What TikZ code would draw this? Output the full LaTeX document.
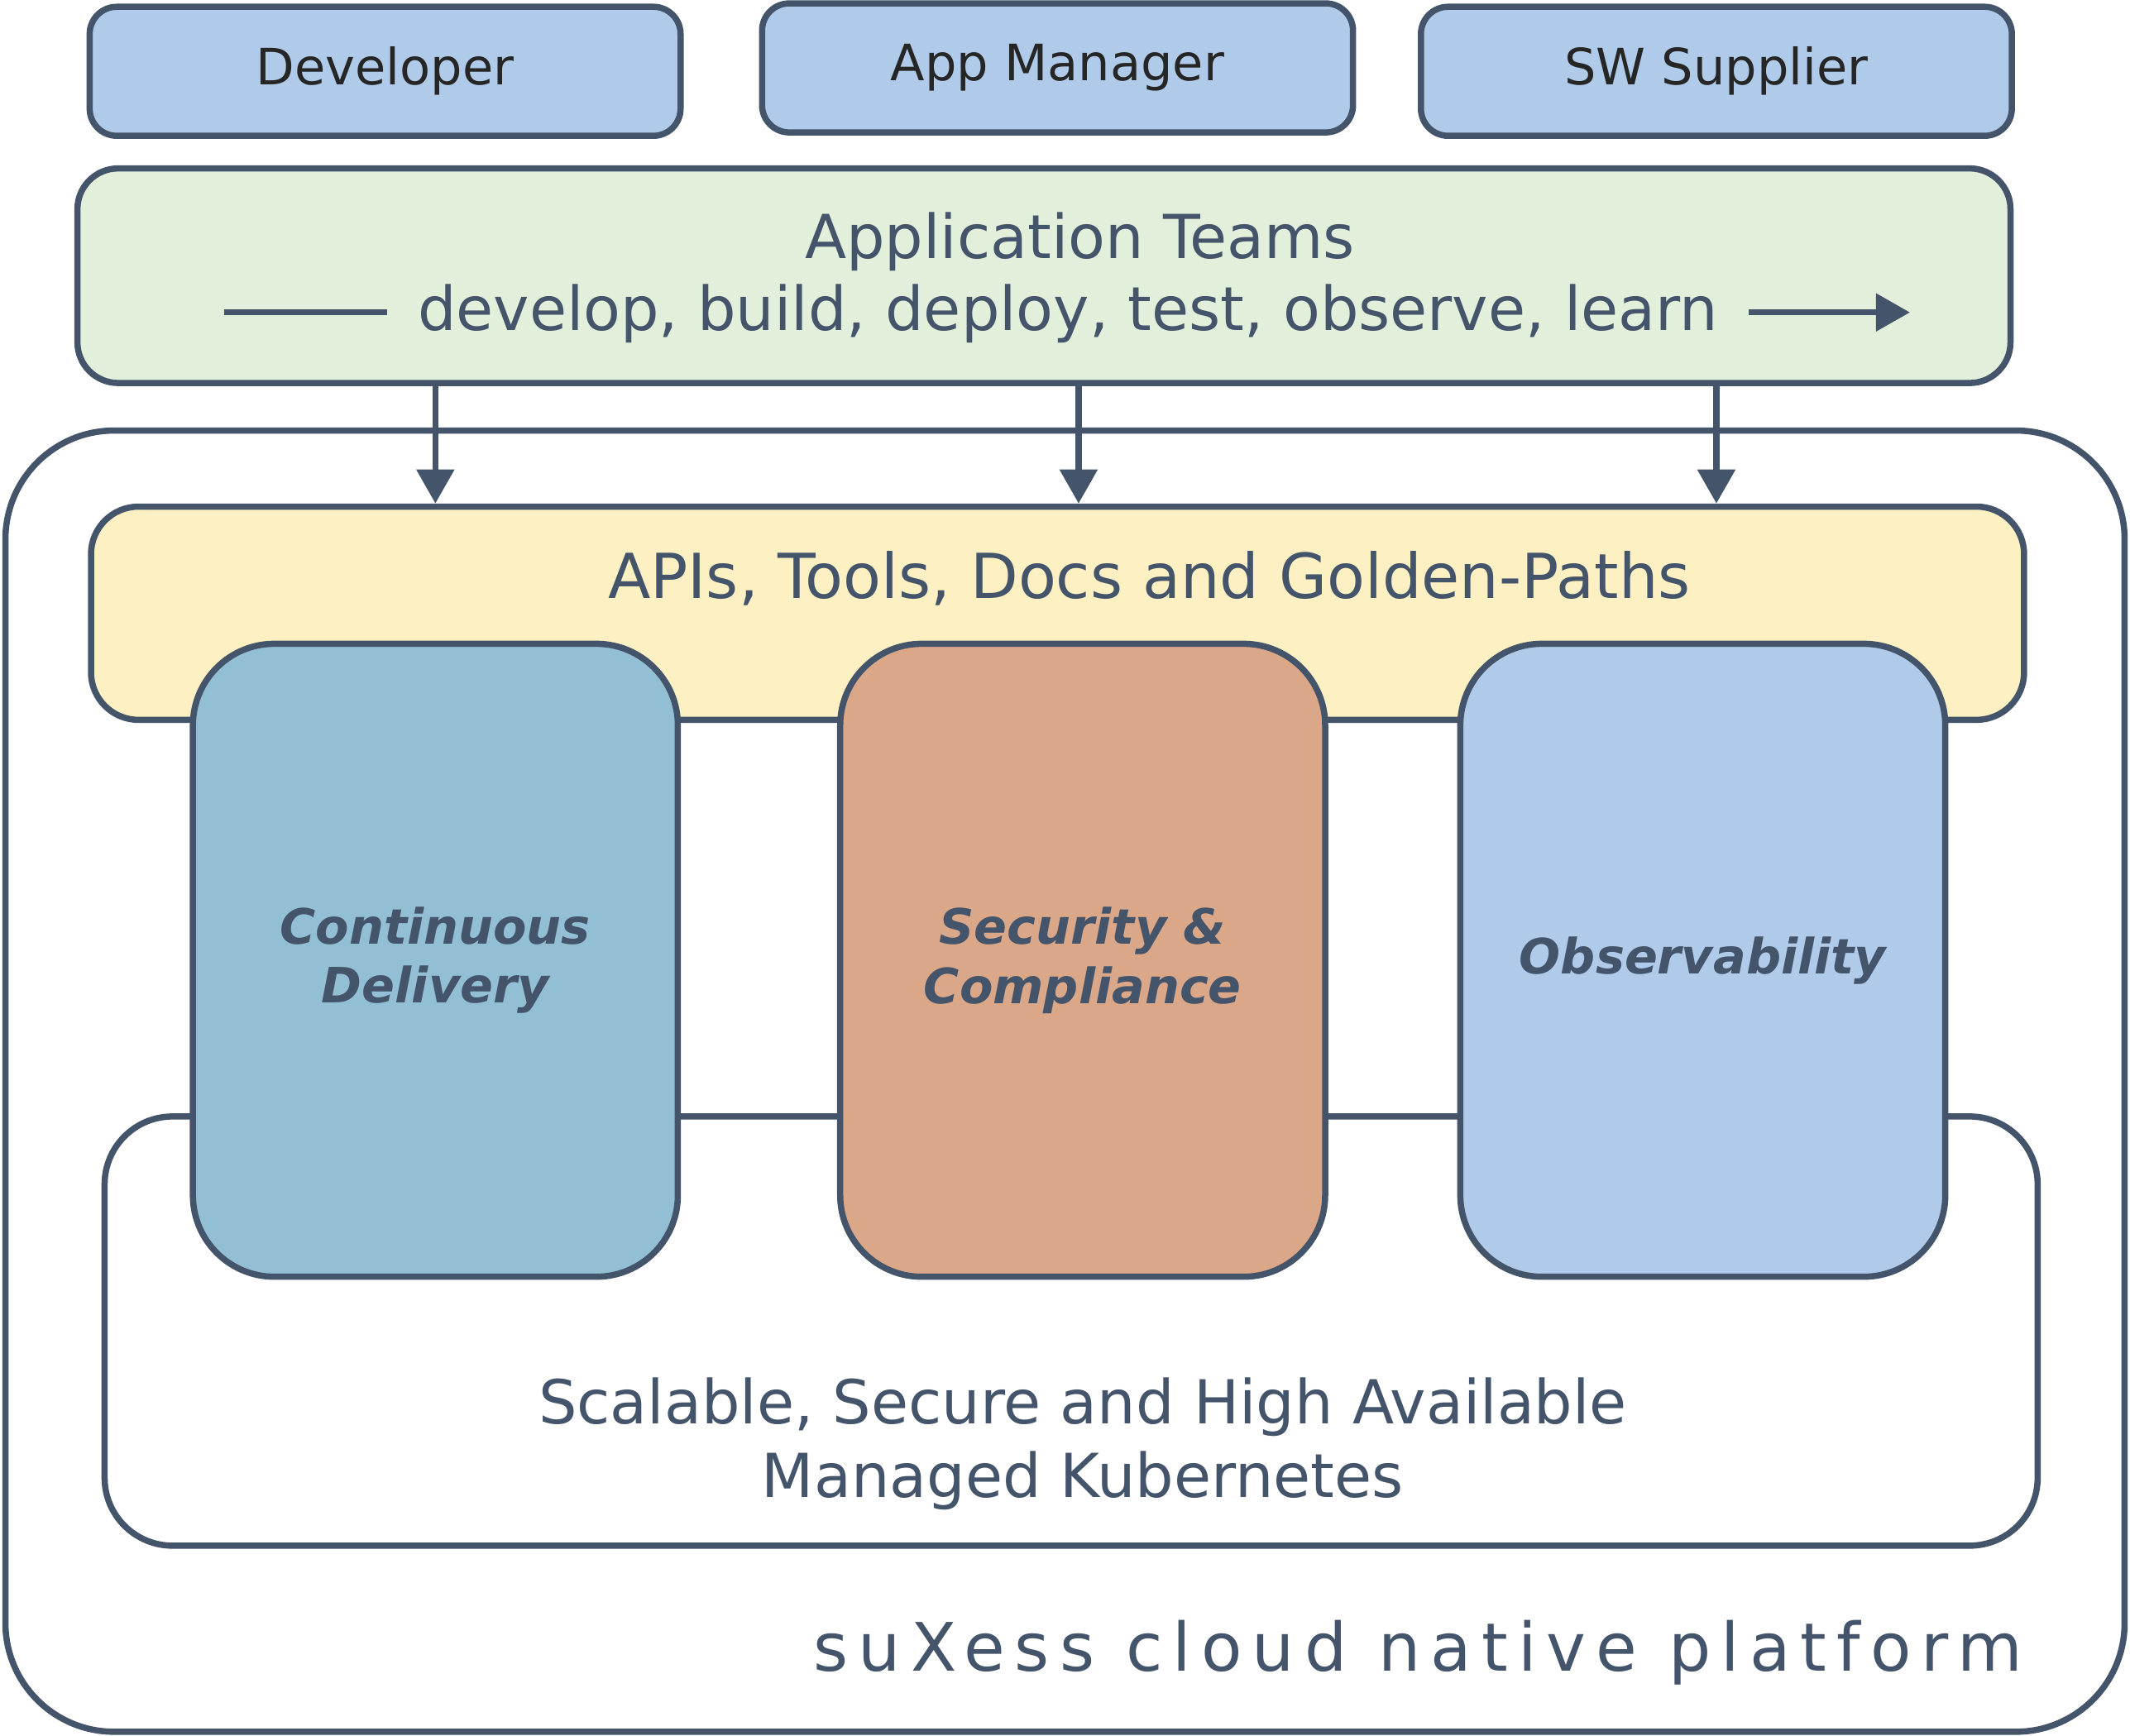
\documentclass[tikz,border=0pt]{standalone}
\usepackage{fontspec}
\setmainfont{DejaVu Sans}
\newfontfamily\brandfont[LetterSpace=15]{DejaVu Sans}
\usepackage{tikz}
\usetikzlibrary{arrows.meta}

\definecolor{slate}{HTML}{44546A}
\definecolor{labelgray}{HTML}{262626}
\definecolor{roleblue}{HTML}{AFCBE9}
\definecolor{teamgreen}{HTML}{E2EFDA}
\definecolor{apiyellow}{HTML}{FDF0C2}
\definecolor{cdteal}{HTML}{93BFD4}
\definecolor{secorange}{HTML}{DBA789}

\tikzset{
    block/.style = {shape = rectangle, draw = slate, line width = 1.3pt, rounded corners = #1, inner sep = 0pt},
    block/.default = 0.2cm,
    role/.style = {block, fill = roleblue, minimum width = 4.35cm, minimum height = 0.95cm, text = labelgray, font = \fontsize{10.5}{12.6}\selectfont},
    pillar/.style = {block = 0.6cm, minimum width = 3.57cm, minimum height = 4.66cm, text = slate, align = center, font = \fontsize{10.2}{12.4}\selectfont\bfseries\itshape},
    flow/.style = {draw = slate, line width = 1.3pt, -{Triangle[width = 0.27cm, length = 0.25cm]}},
    bigtext/.style = {text = slate, font = \fontsize{12.7}{15.3}\selectfont}
}

\begin{document}
\begin{tikzpicture}
    \useasboundingbox (0, 0.02) rectangle (15.68, 12.80);

    \node [role] (dev) at (2.835, 12.275) {Developer};
    \node [role] (appmgr) at (7.785, 12.30) {App Manager};
    \node [role] (supplier) at (12.635, 12.275) {SW Supplier};

    \node [block = 0.3cm, fill = teamgreen, minimum width = 14.23cm, minimum height = 1.58cm] (teams) at (7.685, 10.77) {};
    \node [bigtext] (teamstitle) at (7.95, 11.02) {Application Teams};
    \node [bigtext, inner sep = 0.22cm] (cycle) at (7.86, 10.49) {develop, build, deploy, test, observe, learn};
    \coordinate (cycbegin) at (1.65, 10.50);
    \coordinate (cycend) at (14.06, 10.50);
    \draw [draw = slate, line width = 1.3pt] (cycbegin) -- (cycbegin -| cycle.west);
    \draw [flow] (cycend -| cycle.east) -- (cycend);

    \node [block = 0.8cm, minimum width = 15.60cm, minimum height = 9.58cm] (platform) at (7.84, 4.84) {};
    \node [text = slate, font = \fontsize{14}{16}\brandfont] (brand) at (10.44, 0.63) {suXess cloud native platform};

    \node [block = 0.5cm, fill = white, minimum width = 14.23cm, minimum height = 3.16cm] (kube) at (7.885, 3.00) {};
    \node [bigtext, align = center] (kubetext) at (7.97, 2.17) {Scalable, Secure and High Available\\Managed Kubernetes};

    \node [block = 0.35cm, fill = apiyellow, minimum width = 14.23cm, minimum height = 1.57cm] (apis) at (7.785, 8.285) {};
    \node [bigtext, font = \fontsize{13}{15.6}\selectfont] (apistext) at (8.46, 8.54) {APIs, Tools, Docs and Golden-Paths};

    \node [pillar, fill = cdteal] (cd) at (3.205, 5.73) {Continuous\\Delivery};
    \node [pillar, fill = secorange] (sec) at (7.97, 5.73) {Security \&\\Compliance};
    \node [pillar, fill = roleblue] (obs) at (12.535, 5.73) {Observability};

    \draw [flow] (cd.north |- teams.south) -- (cd.north |- apis.north);
    \draw [flow] ([xshift = -0.03cm] sec.north |- teams.south) -- ([xshift = -0.03cm] sec.north |- apis.north);
    \draw [flow] ([xshift = 0.1cm] obs.north |- teams.south) -- ([xshift = 0.1cm] obs.north |- apis.north);
\end{tikzpicture}
\end{document}
